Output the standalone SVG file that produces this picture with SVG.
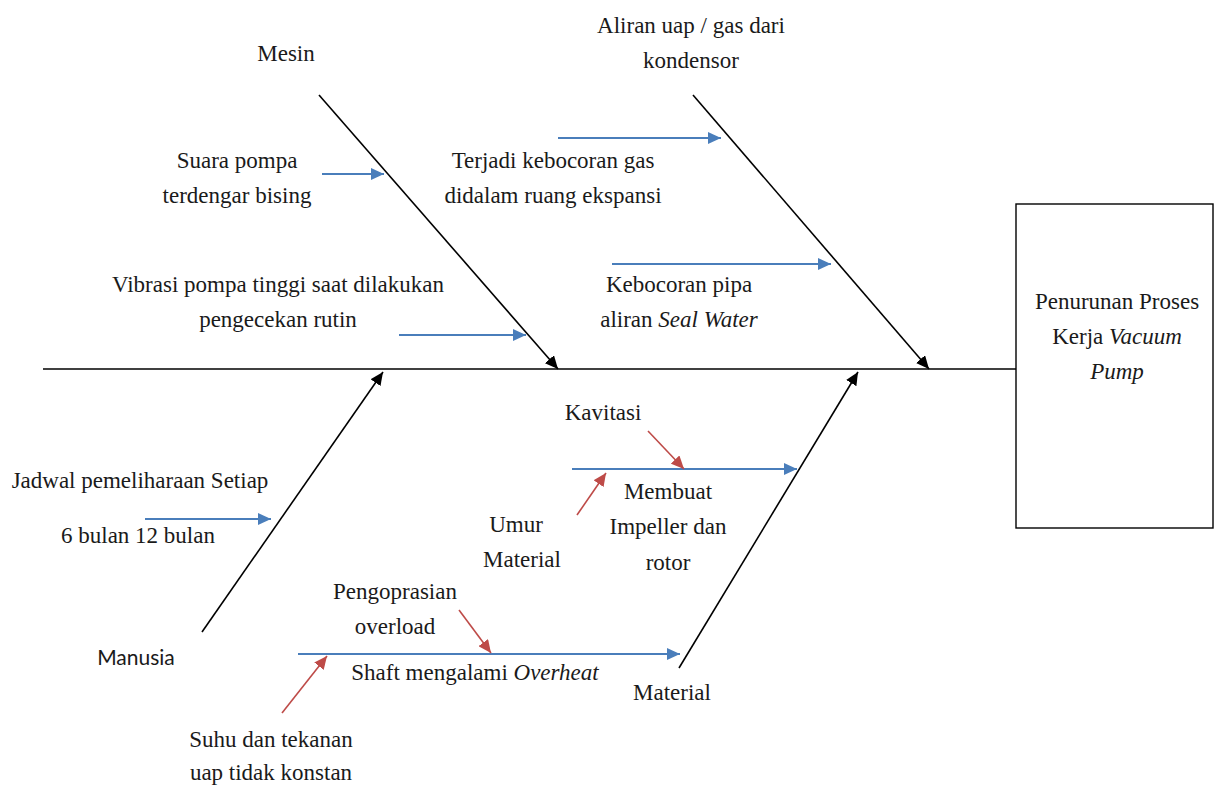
<svg xmlns="http://www.w3.org/2000/svg" width="1214" height="785" viewBox="0 0 1214 785">
<style>
.t{font-family:'Liberation Serif','Times New Roman',Times,serif;font-size:23px;fill:#1a1a1a;text-anchor:middle}
.s{font-family:Lato,'Open Sans',sans-serif;font-size:21px;fill:#1a1a1a;text-anchor:middle}
.bk{stroke:#000;stroke-width:1.6;fill:none}
.bl{stroke:#4A7EBB;stroke-width:1.8;fill:none}
.rd{stroke:#BE4B48;stroke-width:1.6;fill:none}
</style>
<defs>
<marker id="ab" markerUnits="userSpaceOnUse" markerWidth="14" markerHeight="12" refX="13" refY="6" orient="auto"><path d="M0,0 L13,6 L0,12 z" fill="#000"/></marker>
<marker id="abl" markerUnits="userSpaceOnUse" markerWidth="14" markerHeight="12" refX="13" refY="6" orient="auto"><path d="M0,0 L13,6 L0,12 z" fill="#4A7EBB"/></marker>
<marker id="ard" markerUnits="userSpaceOnUse" markerWidth="14" markerHeight="12" refX="13" refY="6" orient="auto"><path d="M0,0 L13,6 L0,12 z" fill="#BE4B48"/></marker>
</defs>
<rect width="1214" height="785" fill="#fff"/>
<g id="connectors">
<line class="bk" x1="43" y1="369" x2="1016" y2="369"/>
<line class="bk" x1="319" y1="95" x2="558" y2="369" marker-end="url(#ab)"/>
<line class="bk" x1="693" y1="95" x2="929" y2="369" marker-end="url(#ab)"/>
<line class="bk" x1="202" y1="632" x2="383" y2="372" marker-end="url(#ab)"/>
<line class="bk" x1="679" y1="668" x2="858" y2="372" marker-end="url(#ab)"/>
<line class="bl" x1="322" y1="174" x2="384" y2="174" marker-end="url(#abl)"/>
<line class="bl" x1="399" y1="335" x2="526" y2="335" marker-end="url(#abl)"/>
<line class="bl" x1="558" y1="138" x2="721" y2="138" marker-end="url(#abl)"/>
<line class="bl" x1="612" y1="264" x2="831" y2="264" marker-end="url(#abl)"/>
<line class="bl" x1="145" y1="519" x2="271" y2="519" marker-end="url(#abl)"/>
<line class="bl" x1="572" y1="469" x2="797" y2="469" marker-end="url(#abl)"/>
<line class="bl" x1="298" y1="654" x2="680" y2="654" marker-end="url(#abl)"/>
<line class="rd" x1="648" y1="431" x2="684" y2="469" marker-end="url(#ard)"/>
<line class="rd" x1="577" y1="515" x2="606" y2="473" marker-end="url(#ard)"/>
<line class="rd" x1="459" y1="610" x2="491" y2="653" marker-end="url(#ard)"/>
<line class="rd" x1="282" y1="713" x2="327" y2="656" marker-end="url(#ard)"/>
</g>
<g id="effect">
<rect x="1016" y="204" width="197" height="324" fill="#fff" stroke="#000" stroke-width="1.4"/>
<text class="t" x="1117" y="309">Penurunan Proses</text>
<text class="t" x="1117" y="344">Kerja <tspan font-style="italic">Vacuum</tspan></text>
<text class="t" x="1117" y="379" font-style="italic">Pump</text>
</g>
<g id="cat-mesin"><text class="t" x="286" y="61">Mesin</text></g>
<g id="cat-aliran"><text class="t" x="691" y="33">Aliran uap / gas dari</text><text class="t" x="691" y="68">kondensor</text></g>
<g id="cat-manusia"><text class="s" x="136" y="665">Manusia</text></g>
<g id="cat-material"><text class="t" x="672" y="700">Material</text></g>
<g id="cause-suara"><text class="t" x="237" y="168">Suara pompa</text><text class="t" x="237" y="203">terdengar bising</text></g>
<g id="cause-vibrasi"><text class="t" x="278" y="292">Vibrasi pompa tinggi saat dilakukan</text><text class="t" x="278" y="327">pengecekan rutin</text></g>
<g id="cause-terjadi"><text class="t" x="553" y="168">Terjadi kebocoran gas</text><text class="t" x="553" y="203">didalam ruang ekspansi</text></g>
<g id="cause-kebocoran"><text class="t" x="679" y="292">Kebocoran pipa</text><text class="t" x="679" y="327">aliran <tspan font-style="italic">Seal Water</tspan></text></g>
<g id="cause-jadwal"><text class="t" x="140" y="488">Jadwal pemeliharaan Setiap</text><text class="t" x="138" y="543">6 bulan 12 bulan</text></g>
<g id="cause-kavitasi"><text class="t" x="603" y="420">Kavitasi</text></g>
<g id="cause-membuat"><text class="t" x="668" y="499">Membuat</text><text class="t" x="668" y="534">Impeller dan</text><text class="t" x="668" y="570">rotor</text></g>
<g id="cause-umur"><text class="t" x="516" y="532">Umur</text><text class="t" x="522" y="567">Material</text></g>
<g id="cause-pengoprasian"><text class="t" x="395" y="599">Pengoprasian</text><text class="t" x="395" y="634">overload</text></g>
<g id="cause-shaft"><text class="t" x="475" y="680">Shaft mengalami <tspan font-style="italic">Overheat</tspan></text></g>
<g id="cause-suhu"><text class="t" x="271" y="747">Suhu dan tekanan</text><text class="t" x="271" y="780">uap tidak konstan</text></g>
</svg>
